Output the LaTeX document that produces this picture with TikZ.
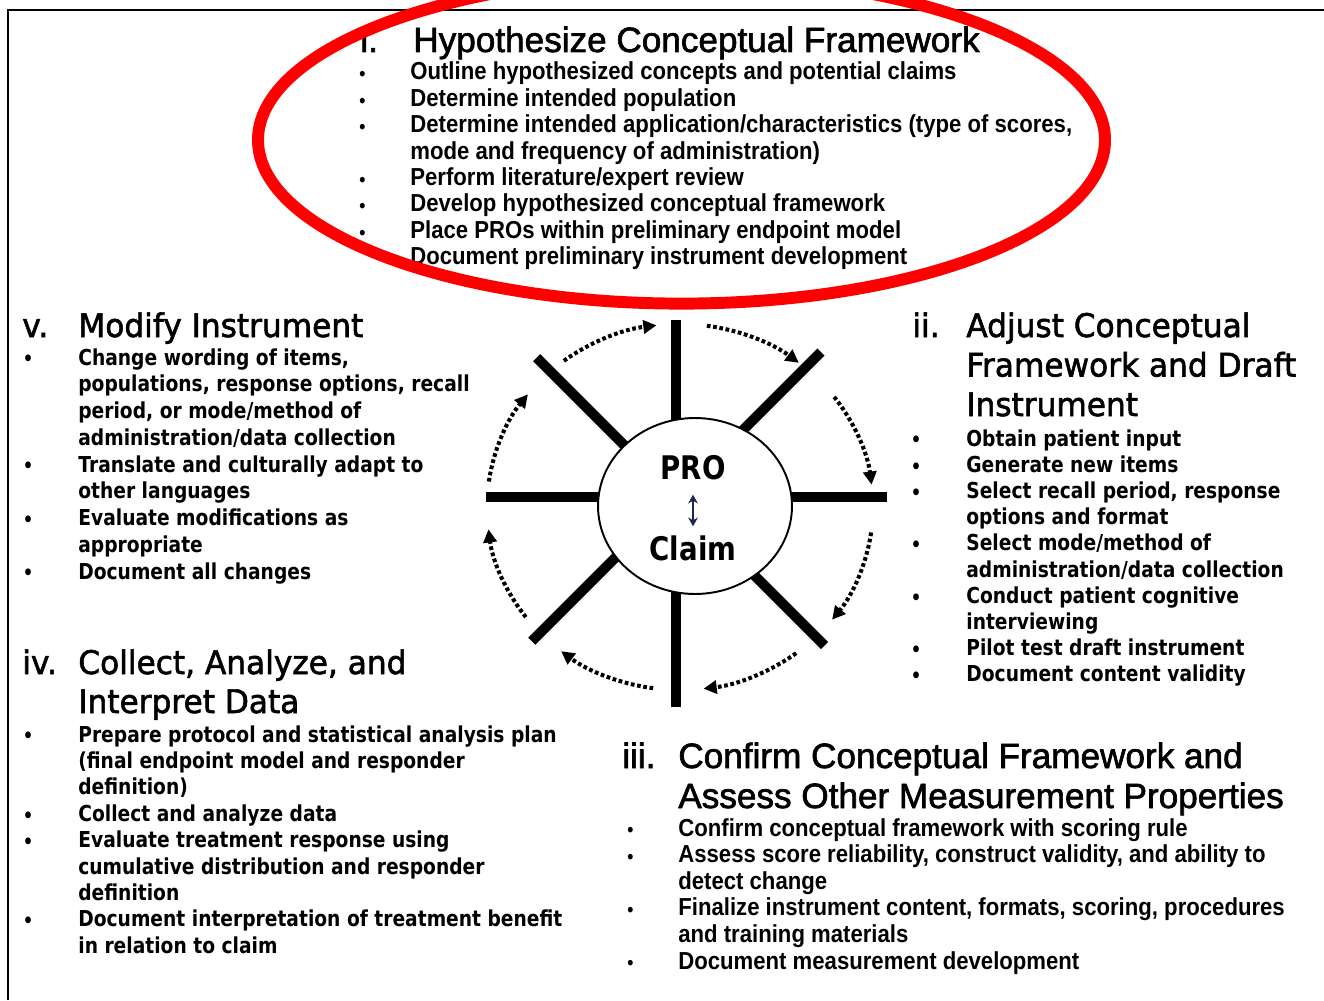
\documentclass[tikz,border=0pt]{standalone}
\usepackage{fontspec}
\setmainfont{DejaVu Sans}
\newfontfamily\tahoma{DejaVu Sans}[FakeStretch=0.85]
\newfontfamily\tahomahead{DejaVu Sans}[FakeStretch=0.96, FakeBold=1.8]
\newfontfamily\arialhead{Liberation Sans}[FakeBold=1.8]
\newfontfamily\arialnarrow{Liberation Sans}[FakeStretch=0.9]
\usetikzlibrary{arrows.meta,shapes.geometric}

\newcommand\bul{\llap{\raisebox{-0.5pt}{\fontsize{11}{11}\selectfont\textbullet}\hspace{25.6pt}}}

\tikzset{
  head/.style={anchor=base west, inner sep=0pt, font=\tahomahead\fontsize{18.5}{22}\selectfont},
  headnar/.style={anchor=base west, inner sep=0pt, font=\arialhead\fontsize{20}{24}\selectfont},
  item/.style={anchor=base west, inner sep=0pt, font=\tahoma\bfseries\fontsize{12.5}{15}\selectfont},
  itemnar/.style={anchor=base west, inner sep=0pt, font=\arialnarrow\bfseries\fontsize{14}{16}\selectfont},
  spoke/.style={line width=5.8pt},
  loopdot/.style={line width=2.3pt, dash pattern=on 2.1pt off 1.5pt, -{Triangle[length=7.5pt,width=7.5pt]}},
  hub/.style={draw, line width=1.1pt, fill=white, ellipse, inner sep=0pt, minimum width=3.88cm, minimum height=3.52cm},
  hubtext/.style={inner sep=0pt, font=\tahoma\bfseries\fontsize{18.5}{22}\selectfont},
  ring/.style={draw=red, line width=6.8pt},
}

\begin{document}
\begin{tikzpicture}[x=0.02cm, y=-0.02cm]
    \useasboundingbox (0,0) rectangle (1324,1000);
    \clip (0,0) rectangle (1324,1000);

    % Marco
    \draw[line width=1.1pt] (8,1000) -- (8,10) -- (1324,10);

    % Rueda
    \coordinate (axle) at (676,497);
    \foreach \a/\r in {0/211, 45/210, 90/210, 135/204, 180/190, 225/197, 270/177, 315/205}
        \draw[spoke] (axle) -- ++(\a:\r);
    \foreach \a in {0,45,...,315}
        \draw[loopdot] (680,507) ++(\a+8:193 and 183) arc[start angle=\a+8, end angle=\a+38, x radius=193, y radius=183];
    \node[hub] (hub) at (695,506) {};
    \node[hubtext] (pro) at (693,468) {PRO};
    \node[hubtext] (claim) at (693,548) {Claim};
    \draw[line width=1pt, draw={rgb,255:red,30;green,40;blue,70}, {Stealth[length=5pt,width=5.5pt]}-{Stealth[length=5pt,width=5.5pt]}, shorten <=8pt, shorten >=5pt] (pro) -- (claim);

    % i.
    \node[headnar] (hyp-num) at (360,52) {i.};
    \node[headnar] (hyp) at (413,52) {Hypothesize Conceptual Framework};
    \foreach \txt [count=\k] in {
        {\bul Outline hypothesized concepts and potential claims},
        {\bul Determine intended population},
        {\bul Determine intended application/characteristics (type of scores,},
        {mode and frequency of administration)},
        {\bul Perform literature/expert review},
        {\bul Develop hypothesized conceptual framework},
        {\bul Place PROs within preliminary endpoint model},
        {Document preliminary instrument development}}
        \node[itemnar] (hyp\k) at (410,{80+26.4*(\k-1)}) {\txt};

    % ii.
    \node[head] (adj-num) at (912,337) {ii.};
    \foreach \txt [count=\k] in {Adjust Conceptual, Framework and Draft, Instrument}
        \node[head] (adj\k) at (966,{337+39.5*(\k-1)}) {\txt};
    \foreach \txt [count=\k] in {
        {\bul Obtain patient input},
        {\bul Generate new items},
        {\bul Select recall period, response},
        {options and format},
        {\bul Select mode/method of},
        {administration/data collection},
        {\bul Conduct patient cognitive},
        {interviewing},
        {\bul Pilot test draft instrument},
        {\bul Document content validity}}
        \node[item] (adjit\k) at (966,{446+26.2*(\k-1)}) {\txt};

    % iii.
    \node[headnar] (con-num) at (622,768) {iii.};
    \foreach \txt [count=\k] in {Confirm Conceptual Framework and, Assess Other Measurement Properties}
        \node[headnar] (con\k) at (678,{768+40*(\k-1)}) {\txt};
    \foreach \txt [count=\k] in {
        {\bul Confirm conceptual framework with scoring rule},
        {\bul Assess score reliability, construct validity, and ability to},
        {detect change},
        {\bul Finalize instrument content, formats, scoring, procedures},
        {and training materials},
        {\bul Document measurement development}}
        \node[itemnar] (conit\k) at (678,{836+26.6*(\k-1)}) {\txt};

    % iv.
    \node[head] (col-num) at (22,674) {iv.};
    \foreach \txt [count=\k] in {{Collect, Analyze, and}, Interpret Data}
        \node[head] (col\k) at (78,{674+39*(\k-1)}) {\txt};
    \foreach \txt [count=\k] in {
        {\bul Prepare protocol and statistical analysis plan},
        {(final endpoint model and responder},
        {definition)},
        {\bul Collect and analyze data},
        {\bul Evaluate treatment response using},
        {cumulative distribution and responder},
        {definition},
        {\bul Document interpretation of treatment benefit},
        {in relation to claim}}
        \node[item] (colit\k) at (78,{742+26.4*(\k-1)}) {\txt};

    % v.
    \node[head] (mod-num) at (22,337) {v.};
    \node[head] (mod) at (78,337) {Modify Instrument};
    \foreach \txt [count=\k] in {
        {\bul Change wording of items,},
        {populations, response options, recall},
        {period, or mode/method of},
        {administration/data collection},
        {\bul Translate and culturally adapt to},
        {other languages},
        {\bul Evaluate modifications as},
        {appropriate},
        {\bul Document all changes}}
        \node[item] (modit\k) at (78,{365+26.75*(\k-1)}) {\txt};

    % Elipse roja
    \draw[ring] (681.5,140) ellipse [x radius=423.5, y radius=163.6];
\end{tikzpicture}
\end{document}
